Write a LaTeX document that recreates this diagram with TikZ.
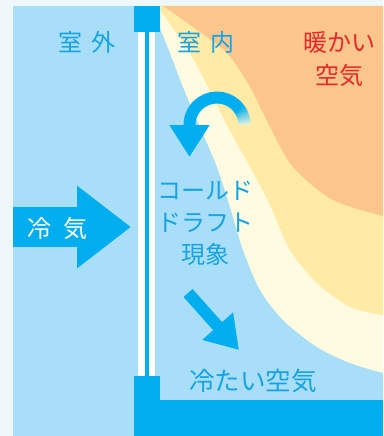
\documentclass[tikz,border=0pt]{standalone}
\usepackage{fontspec}
\setmainfont{Noto Sans CJK JP}
\usetikzlibrary{arrows.meta}
\definecolor{paleback}{RGB}{238,247,250}
\definecolor{coolblue}{RGB}{168,222,248}
\definecolor{framecyan}{RGB}{0,174,239}
\definecolor{labelblue}{RGB}{22,163,227}
\definecolor{warmcream}{RGB}{255,251,225}
\definecolor{warmyellow}{RGB}{255,234,166}
\definecolor{warmorange}{RGB}{251,198,139}
\definecolor{warmred}{RGB}{232,40,40}

\begin{document}
\begin{tikzpicture}[x=1pt,y=-1pt,
  tag/.style={font=\fontsize{24}{32}\selectfont,color=labelblue,inner sep=0pt,align=center},
  flow/.style={color=framecyan,line width=12pt}]
\useasboundingbox (0,0) rectangle (383,436);
\fill[paleback](0,0)rectangle(383,436);
\fill[coolblue](13,6)rectangle(383,436);
% warm layers spreading from the room side
\fill[warmcream] plot[smooth] coordinates
  {(150,6)(156,18)(170,53)(183,87)(200,127)(217,167)(230,207)
   (243,250)(260,290)(283,320)(317,347)(350,363)(383,373)}
  -- (383,6) -- cycle;
\fill[warmyellow] plot[smooth] coordinates
  {(157,6)(172,27)(190,53)(208,87)(228,127)(250,167)(270,205)
   (290,250)(317,283)(350,307)(383,315)}
  -- (383,6) -- cycle;
\fill[warmorange] plot[smooth] coordinates
  {(163,6)(193,27)(227,53)(250,87)(270,127)(293,167)(333,200)(383,216)}
  -- (383,6) -- cycle;
% window frame and floor
\fill[framecyan](134,6)rectangle(160,32);
\fill[white](138,32)rectangle(155,376);
\fill[framecyan](145,32)rectangle(149,376);
\fill[framecyan](134,376)rectangle(160,436);
\fill[framecyan](160,400)rectangle(383,436);
% cold air coming in
\draw[framecyan,line width=40pt,-{Triangle[length=54pt,width=79pt]}](13,227)--(131,227);
% draft curling down along the glass
\foreach \a in {0,...,34}{
  \pgfmathsetmacro\p{10+2.6*\a}
  \draw[flow,color=framecyan!\p!warmcream](217,125)+(-\a:27.5)arc(-\a:-\a-1.5:27.5);}
\draw[flow,-{Triangle[length=32pt,width=38pt]}](217,125)+(-35:27.5)
  arc(-35:-180:27.5)--++(0,32);
\draw[flow,-{Triangle[length=32pt,width=39pt]}](188,293)--(239,350);
% labels
\node[tag] (outside) at (87,42) {室\hspace{9pt}外};
\node[tag] (inside) at (206,42.5) {室\hspace{9pt}内};
\node[tag,color=warmred,font=\fontsize{24}{33}\selectfont] (warmair) at (339,59.5) {暖かい\\空気};
\node[tag] (draft) at (205.5,223) {コールド\\ドラフト\\現象};
\node[tag,font=\fontsize{25.5}{30}\selectfont] (coolair) at (253,381) {冷たい空気};
\node[tag,color=white] (coldair) at (57.5,228) {冷\hspace{12pt}気};
\end{tikzpicture}
\end{document}
